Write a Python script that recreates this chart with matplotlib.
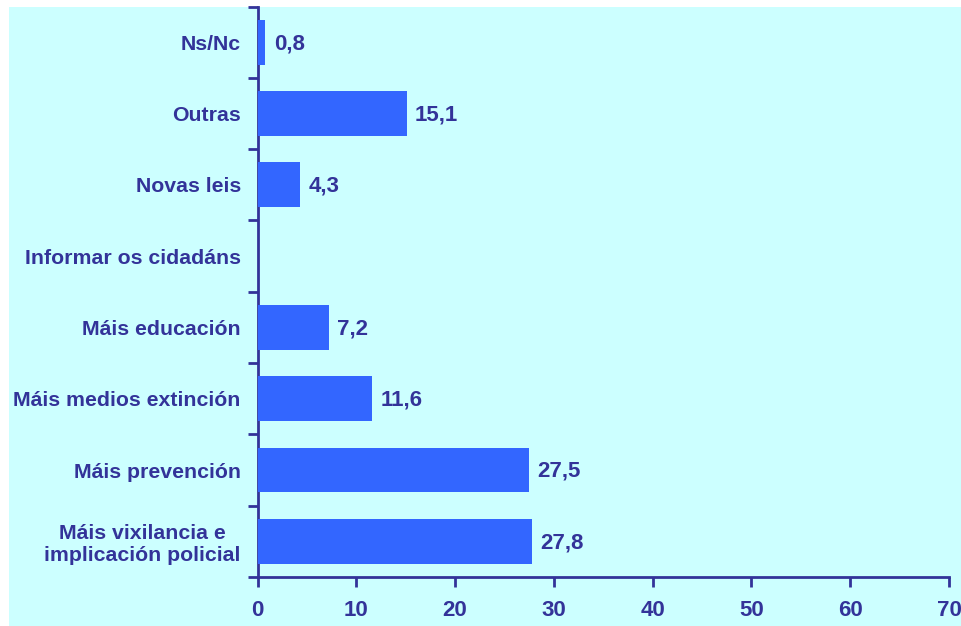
import matplotlib
matplotlib.use("Agg")
import matplotlib.pyplot as plt
from matplotlib.patches import Rectangle
import numpy as np

categories = ["Máis vixilancia e\nimplicación policial", "Máis prevención",
              "Máis medios extinción", "Máis educación", "Informar os cidadáns",
              "Novas leis", "Outras", "Ns/Nc"]
values = [27.8, 27.5, 11.6, 7.2, np.nan, 4.3, 15.1, 0.8]
xticks = [0, 10, 20, 30, 40, 50, 60, 70]

TXT = "#333399"
BAR = "#3366FF"
BG = "#CCFFFF"

plt.rcParams['font.family'] = ['Liberation Sans', 'DejaVu Sans']
plt.rcParams['font.weight'] = 'bold'

fig = plt.figure(figsize=(9.61, 6.26), dpi=100)
fig.patch.set_facecolor("white")
fig.patches.append(Rectangle((9/961, 0), 1 - 9/961, 1 - 7/626, transform=fig.transFigure,
                             facecolor=BG, edgecolor="none", zorder=-10))
ax = fig.add_axes([257.5/961, 1 - 577/626, (949 - 257.5)/961, (577 - 6.5)/626])
ax.set_facecolor("none")

y = np.arange(len(categories))
vals = np.array(values, dtype=float)
ax.barh(y, np.nan_to_num(vals), height=0.63, color=BAR, zorder=3)
for yi, v in zip(y, vals):
    if not np.isnan(v):
        ax.annotate(f"{v:.1f}".replace(".", ","), (v, yi), xytext=(6, -1),
                    textcoords="offset points", va="center", ha="left",
                    fontsize=16, fontweight="bold", color=TXT)

ax.set_xlim(0, 70)
ax.set_ylim(-0.5, len(categories) - 0.5)
ax.set_xticks(xticks)
ax.set_xticklabels([str(t) for t in xticks], fontsize=16, fontweight="bold", color=TXT)
ax.set_yticks(y)
ax.set_yticklabels(categories, fontsize=15.3, fontweight="bold", color=TXT,
                   multialignment="center", linespacing=1.2)
ax.set_yticks(np.arange(-0.5, len(categories)), minor=True)
ax.tick_params(axis="y", which="major", length=0, pad=12)
ax.tick_params(axis="y", which="minor", length=7, width=2, color=TXT)
ax.tick_params(axis="x", which="major", length=7, width=2, color=TXT, pad=9.5)
for s in ["top", "right"]:
    ax.spines[s].set_visible(False)
for s in ["left", "bottom"]:
    ax.spines[s].set_color(TXT)
    ax.spines[s].set_linewidth(2)

fig.savefig("out.png", dpi=100, facecolor=fig.get_facecolor())
